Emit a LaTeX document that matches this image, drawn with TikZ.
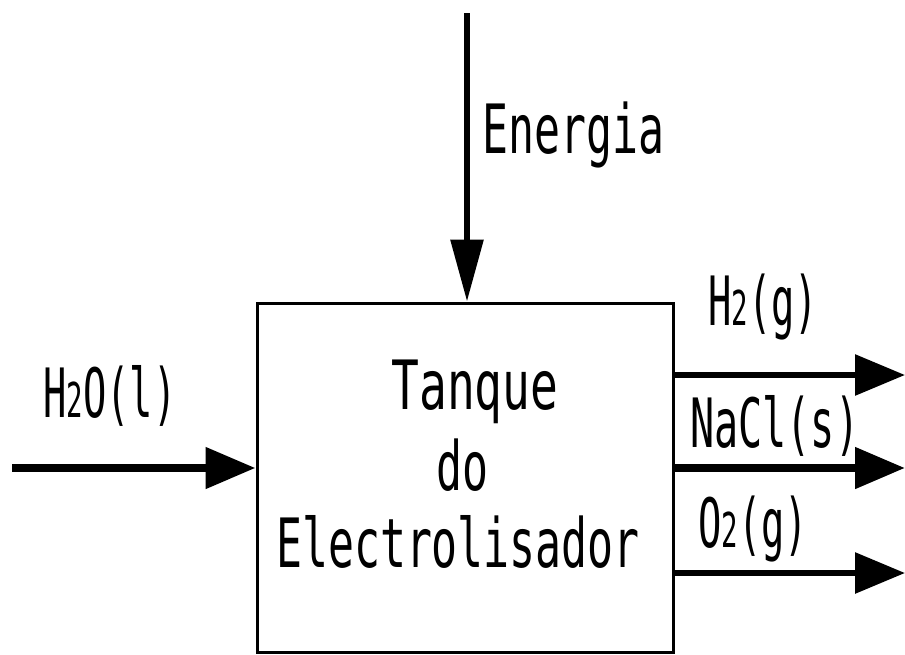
\documentclass[tikz,border=0pt]{standalone}
\usepackage{fontspec}
\usepackage{graphicx}
\newfontfamily\cadfont{DejaVu Sans Mono}
\usetikzlibrary{arrows.meta}
\newcommand{\cadtxt}[1]{\scalebox{0.635}[1]{#1}}
\newcommand{\cadnarrow}[1]{\scalebox{0.57}[1]{#1}}
\newcommand{\sdig}[1]{{\fontsize{48}{48}\selectfont #1}}
\begin{document}
\begin{tikzpicture}[x=1pt,y=-1pt,
  lbl/.style={font=\cadfont\fontsize{68}{79}\selectfont, inner sep=0pt, anchor=base west},
  boxtxt/.style={font=\cadfont\fontsize{68}{79}\selectfont, inner sep=0pt, anchor=base},
  flow/.style={line width=6pt, -{Triangle[length=50pt,width=40pt]}},
  tank/.style={draw, line width=3pt, minimum width=416pt, minimum height=349pt, inner sep=0pt}]
\useasboundingbox (0,0) rectangle (905,654);
\node[tank] (box) at (465,477.5) {};
\node[boxtxt] (t1) at (475,409) {\scalebox{0.68}[1]{Tanque}};
\node[boxtxt] (t2) at (462,490) {\cadtxt{do}};
\node[boxtxt] (t3) at (458,567) {\cadtxt{Electrolisador}};
% input energy
\coordinate (etop) at (467,13);
\draw[flow, -{Triangle[length=62pt,width=32pt]}] (etop) -- (etop |- box.north);
\node[lbl] (energia) at (482,153) {\cadtxt{Energia}};
% input water
\coordinate (win) at (12,468);
\draw[flow, line width=8pt] (win) -- (win -| box.west);
\node[lbl] (h2o) at (43,417) {\cadnarrow{H\sdig{2}O(l)}};
% outputs
\coordinate (h2end) at (905,375);
\coordinate (naend) at (905,468);
\coordinate (o2end) at (905,573);
\draw[flow] (box.east |- h2end) -- (h2end);
\draw[flow, line width=8pt] (box.east |- naend) -- (naend);
\draw[flow] (box.east |- o2end) -- (o2end);
\node[lbl] (h2g) at (708,325) {\cadnarrow{H\sdig{2}(g)}};
\node[lbl] (nacl) at (690,447) {\scalebox{0.59}[1]{NaCl(s)}};
\node[lbl] (o2g) at (698,547) {\cadnarrow{O\sdig{2}(g)}};
\end{tikzpicture}
\end{document}
